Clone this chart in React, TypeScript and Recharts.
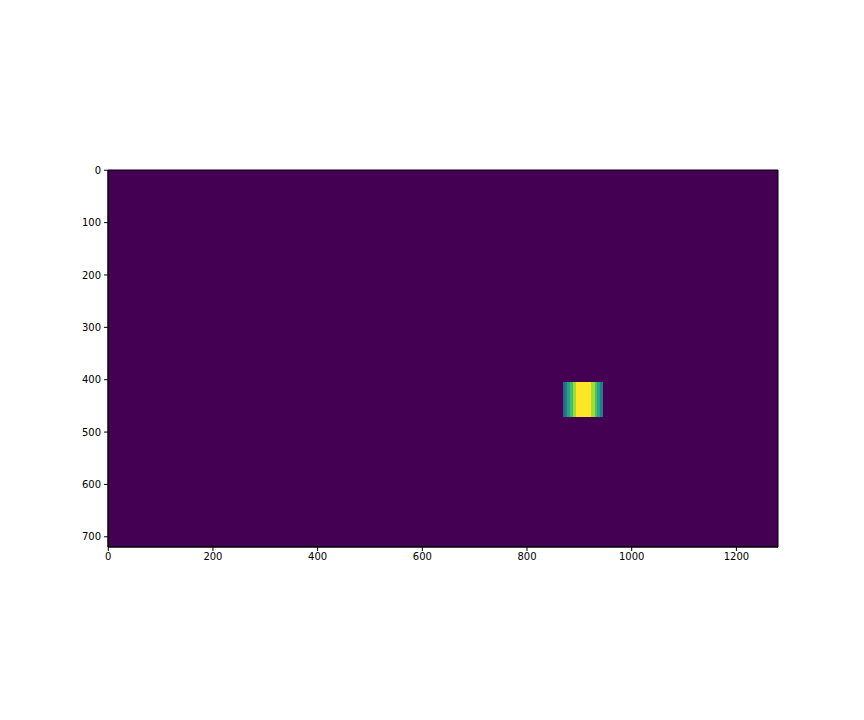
import React from "react"
import { ComposedChart, XAxis, YAxis, ReferenceArea } from "recharts"

// image is 1280 x 720 pixels, all zero except a small block of columns
const imageWidth = 1280
const imageHeight = 720
const background = "#440154"

const xTicks = [0, 200, 400, 600, 800, 1000, 1200]
const yTicks = [0, 100, 200, 300, 400, 500, 600, 700]

// the lit block: rows 405..470, column bands with their viridis colour
const blockTop = 404.5
const blockBottom = 470.5
const bandStarts = [869.5, 873, 877, 883, 888, 894, 923, 929, 934, 940]
const bandEnds = [873, 877, 883, 888, 894, 923, 929, 934, 940, 945.5]
const bandColors = [
  "#355f8d",
  "#2a788e",
  "#21a585",
  "#44bf70",
  "#9fda3a",
  "#fde725",
  "#a5db36",
  "#4ac16d",
  "#22a884",
  "#2a788e",
]

const tickStyle = { fontSize: 10, fill: "#000", fontFamily: "DejaVu Sans" }

export default function App() {
  return (
    <div style={{ position: "fixed", left: 0, top: 0, background: "#fff" }}>
      <ComposedChart
        width={864}
        height={720}
        data={[]}
        margin={{ top: 170, right: 86, bottom: 143, left: 58 }}
      >
        <XAxis
          type="number"
          dataKey="x"
          domain={[-0.5, imageWidth - 0.5]}
          ticks={xTicks}
          allowDataOverflow
          height={30}
          tickSize={4}
          tickMargin={2}
          tick={tickStyle}
          axisLine={{ stroke: "#000" }}
          tickLine={{ stroke: "#000" }}
          interval={0}
        />
        <YAxis
          type="number"
          dataKey="y"
          domain={[-0.5, imageHeight - 0.5]}
          reversed
          ticks={yTicks}
          allowDataOverflow
          width={50}
          tickSize={4}
          tickMargin={3}
          tick={tickStyle}
          axisLine={{ stroke: "#000" }}
          tickLine={{ stroke: "#000" }}
          interval={0}
        />
        <ReferenceArea
          x1={-0.5}
          x2={imageWidth - 0.5}
          y1={-0.5}
          y2={imageHeight - 0.5}
          fill={background}
          fillOpacity={1}
          stroke="#000"
          strokeWidth={1}
          ifOverflow="visible"
        />
        {bandColors.map((c, i) => (
          <ReferenceArea
            key={i}
            x1={bandStarts[i]}
            x2={bandEnds[i]}
            y1={blockTop}
            y2={blockBottom}
            fill={c}
            fillOpacity={1}
            stroke="none"
            shapeRendering="crispEdges"
            ifOverflow="visible"
          />
        ))}
      </ComposedChart>
    </div>
  )
}
